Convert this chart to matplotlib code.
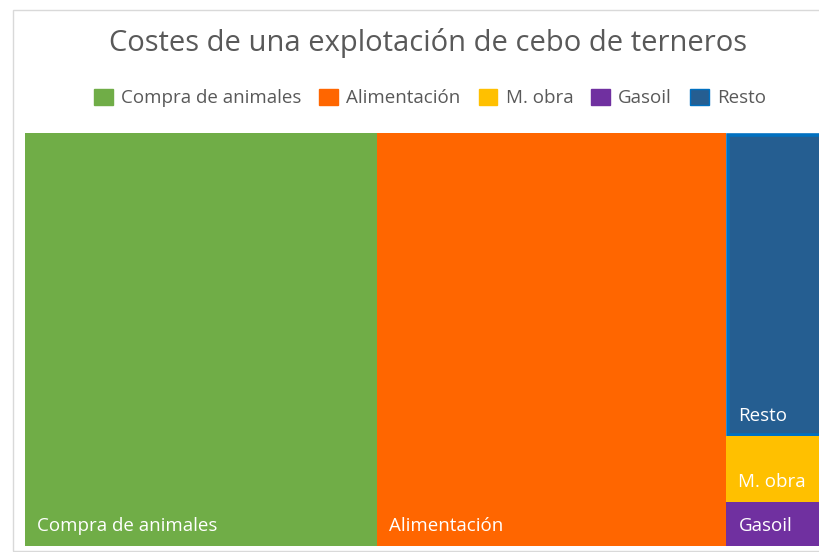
import matplotlib.pyplot as plt
from matplotlib.patches import Rectangle, Patch

plt.rcParams['font.family'] = ['Open Sans', 'DejaVu Sans']

# data (percent of total cost)
categorias = ['Compra de animales', 'Alimentación', 'Resto', 'M. obra', 'Gasoil']
valores = [43.6, 43.3, 9.7, 2.1, 1.4]
colores = ['#70AD47', '#FF6600', '#255E91', '#FFC000', '#7030A0']
bordes = [None, None, '#0070C0', None, None]
orden_leyenda = ['Compra de animales', 'Alimentación', 'M. obra', 'Gasoil', 'Resto']

W, H = 808.0, 413.0


def peor(fila, lado):
    s = sum(fila)
    return max(max(lado * lado * r / (s * s), s * s / (lado * lado * r)) for r in fila)


def squarify(areas, x, y, w, h):
    # simple squarified treemap, rows laid along the shorter side
    rects = []
    areas = list(areas)
    while areas:
        lado = min(w, h)
        fila = [areas.pop(0)]
        while areas and peor(fila + [areas[0]], lado) <= peor(fila, lado):
            fila.append(areas.pop(0))
        s = sum(fila)
        if w >= h:
            ancho = s / h
            yy = y
            for a in fila:
                rects.append((x, yy, ancho, a / ancho))
                yy += a / ancho
            x += ancho
            w -= ancho
        else:
            alto = s / w
            xx = x
            for a in fila:
                rects.append((xx, y, a / alto, alto))
                xx += a / alto
            y += alto
            h -= alto
    return rects


total = sum(valores)
areas = [v / total * W * H for v in valores]
rects = squarify(areas, 0, 0, W, H)

fig = plt.figure(figsize=(8.19, 5.52), dpi=100)
# chart border
fig.patches.append(Rectangle((13 / 819, 1 / 552), 1.0, 541 / 552, transform=fig.transFigure,
                             fill=False, edgecolor='#D9D9D9', linewidth=1))

ax = fig.add_axes([25 / 819, 6 / 552, W / 819, H / 552])
ax.set_xlim(0, W)
ax.set_ylim(H, 0)
ax.axis('off')

for (x, y, w, h), nombre, c, b in zip(rects, categorias, colores, bordes):
    if b is None:
        ax.add_patch(Rectangle((x, y), w, h, facecolor=c, edgecolor='none'))
    else:
        ax.add_patch(Rectangle((x + 1.5, y + 1.5), w - 3, h - 3, facecolor=c, edgecolor=b, linewidth=2.6))
    ax.text(x + 12, y + h - 15, nombre, color='white', fontsize=13.5, ha='left', va='baseline')

fig.text(0.523, 1 - 43 / 552, 'Costes de una explotación de cebo de terneros', ha='center', va='center',
         fontsize=21, color='#595959')

handles = [Patch(facecolor=colores[categorias.index(n)],
                 edgecolor=bordes[categorias.index(n)] if n == 'Resto' else colores[categorias.index(n)])
           for n in orden_leyenda]
fig.legend(handles, orden_leyenda, ncol=5, loc='center', bbox_to_anchor=(0.525, 1 - 98 / 552),
           frameon=False, fontsize=13.5, labelcolor='#595959', handlelength=1.0, handleheight=1.0,
           handletextpad=0.45, columnspacing=0.95)

fig.savefig('out.png', dpi=100)
